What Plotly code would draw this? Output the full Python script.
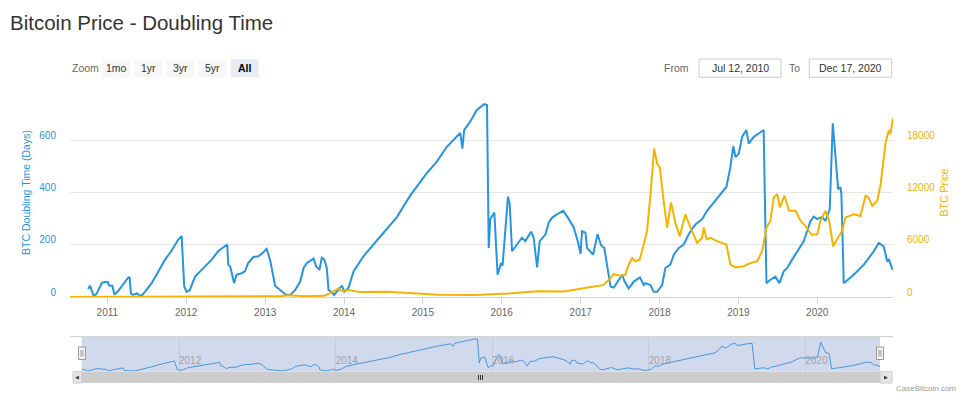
import plotly.graph_objects as go

# ---- data ----
blue_dates = [
    "2010-10-04", "2010-10-13", "2010-10-29", "2010-11-12", "2010-12-06", "2010-12-18",
    "2011-01-03", "2011-01-09", "2011-01-24", "2011-02-03", "2011-02-21", "2011-03-16",
    "2011-04-08", "2011-04-14", "2011-04-20", "2011-05-01", "2011-05-17", "2011-05-27",
    "2011-06-09", "2011-06-24", "2011-07-25", "2011-08-25", "2011-09-25", "2011-10-26",
    "2011-11-25", "2011-12-11", "2011-12-23", "2012-01-03", "2012-01-18", "2012-02-11",
    "2012-03-05", "2012-03-28", "2012-04-28", "2012-05-28", "2012-06-13", "2012-07-09",
    "2012-07-14", "2012-07-23", "2012-08-10", "2012-08-21", "2012-09-14", "2012-09-29",
    "2012-10-14", "2012-11-07", "2012-11-30", "2012-12-16", "2013-01-08", "2013-01-24",
    "2013-02-16", "2013-03-11", "2013-04-04", "2013-04-27", "2013-05-20", "2013-06-12",
    "2013-06-28", "2013-07-13", "2013-08-05", "2013-08-13", "2013-08-25", "2013-09-09",
    "2013-09-20", "2013-10-02", "2013-10-13", "2013-10-21", "2013-11-02", "2013-11-16",
    "2013-12-06", "2013-12-22", "2014-01-02", "2014-01-22", "2014-02-14", "2014-03-17",
    "2014-04-01", "2014-05-17", "2014-09-02", "2014-11-03", "2015-01-19", "2015-03-06",
    "2015-04-22", "2015-06-23", "2015-07-03", "2015-07-11", "2015-08-08", "2015-09-08",
    "2015-10-12", "2015-10-25", "2015-11-02", "2015-11-09", "2015-11-28", "2015-12-13",
    "2015-12-29", "2016-01-05", "2016-01-30", "2016-02-07", "2016-02-18", "2016-03-12",
    "2016-04-04", "2016-04-19", "2016-05-16", "2016-05-28", "2016-06-13", "2016-06-25",
    "2016-07-22", "2016-08-06", "2016-08-22", "2016-09-14", "2016-10-12", "2016-11-07",
    "2016-11-30", "2016-12-18", "2016-12-31", "2017-01-07", "2017-01-23", "2017-01-30",
    "2017-02-11", "2017-02-27", "2017-03-20", "2017-04-05", "2017-04-20", "2017-05-19",
    "2017-06-03", "2017-06-22", "2017-07-12", "2017-07-23", "2017-08-11", "2017-09-04",
    "2017-10-02", "2017-10-20", "2017-10-28", "2017-11-20", "2017-12-05", "2017-12-21",
    "2018-01-13", "2018-01-28", "2018-02-20", "2018-03-08", "2018-03-31", "2018-04-23",
    "2018-05-16", "2018-06-16", "2018-07-17", "2018-08-09", "2018-09-09", "2018-10-18",
    "2018-11-07", "2018-11-25", "2018-12-08", "2018-12-19", "2019-01-03", "2019-01-18",
    "2019-02-07", "2019-02-18", "2019-03-13", "2019-04-05", "2019-04-28", "2019-05-11",
    "2019-05-29", "2019-06-21", "2019-07-10", "2019-07-30", "2019-08-15", "2019-09-07",
    "2019-09-30", "2019-10-31", "2019-12-01", "2019-12-16", "2020-01-01", "2020-01-24",
    "2020-02-08", "2020-02-28", "2020-03-13", "2020-03-26", "2020-04-07", "2020-04-18",
    "2020-04-22", "2020-05-03", "2020-06-18", "2020-08-04", "2020-09-19", "2020-10-12",
    "2020-11-04", "2020-11-20", "2020-11-28", "2020-12-15",
]
blue_days = [
    31, 44, 4, 12, 53, 57,
    57, 44, 43, 9, 24, 49,
    75, 75, 14, 8, 14, 8,
    5, 20, 53, 98, 143, 178,
    220, 233, 40, 20, 27, 78,
    98, 117, 143, 175, 184, 201,
    124, 117, 53, 85, 91, 98,
    130, 153, 156, 166, 184, 140,
    42, 27, 10, 8, 27, 59,
    111, 130, 143, 147, 117, 104,
    150, 143, 111, 27, 20, 8,
    27, 44, 20, 36, 98, 139,
    156, 201, 305, 388, 474, 517,
    575, 628, 568, 639, 671, 716,
    738, 735, 188, 298, 323, 85,
    130, 120, 384, 356, 175, 201,
    227, 214, 250, 227, 113, 214,
    240, 285, 304, 317, 330, 298,
    265, 214, 165, 252, 246, 188,
    175, 162, 240, 198, 188, 40,
    36, 59, 85, 59, 33, 59,
    75, 46, 53, 46, 20, 20,
    46, 111, 124, 162, 188, 201,
    240, 278, 298, 330, 362, 400,
    422, 497, 577, 536, 549, 613,
    639, 587, 613, 626, 639, 53,
    66, 78, 53, 98, 111, 143,
    175, 214, 291, 308, 298, 306,
    291, 336, 665, 523, 413, 420,
    394, 53, 85, 124, 175, 207,
    194, 136, 143, 104,
]

price_dates = [
    "2010-07-12", "2011-06-10", "2011-12-01", "2012-08-15", "2013-03-15", "2013-04-10",
    "2013-07-05", "2013-10-01", "2013-11-13", "2013-12-06", "2013-12-19", "2014-01-22",
    "2014-03-17", "2014-07-18", "2014-12-18", "2015-03-15", "2015-09-01", "2016-02-01",
    "2016-06-13", "2016-10-14", "2016-12-31", "2017-03-01", "2017-04-17", "2017-05-10",
    "2017-06-03", "2017-07-03", "2017-07-26", "2017-08-11", "2017-08-27", "2017-09-11",
    "2017-10-01", "2017-10-20", "2017-11-04", "2017-11-20", "2017-12-07", "2017-12-21",
    "2018-01-02", "2018-01-20", "2018-02-05", "2018-02-23", "2018-03-15", "2018-04-04",
    "2018-05-01", "2018-05-24", "2018-06-24", "2018-07-17", "2018-07-25", "2018-08-07",
    "2018-08-25", "2018-09-24", "2018-11-07", "2018-11-25", "2018-12-19", "2019-01-26",
    "2019-02-26", "2019-03-29", "2019-04-21", "2019-05-11", "2019-05-29", "2019-06-14",
    "2019-06-30", "2019-07-12", "2019-08-03", "2019-08-23", "2019-09-23", "2019-10-16",
    "2019-11-08", "2019-12-04", "2020-01-01", "2020-01-16", "2020-02-08", "2020-02-24",
    "2020-03-15", "2020-04-06", "2020-04-25", "2020-05-11", "2020-06-18", "2020-07-19",
    "2020-08-12", "2020-08-25", "2020-09-12", "2020-10-05", "2020-10-21", "2020-11-13",
    "2020-11-28", "2020-12-05", "2020-12-17",
]
price_usd = [
    0, 20, 4, 11, 90, 200,
    90, 130, 610, 1000, 700, 810,
    560, 610, 330, 250, 230, 400,
    650, 640, 960, 1190, 1390, 1970,
    2630, 2430, 2550, 3710, 4480, 4100,
    4300, 6030, 7570, 11800, 17040, 15300,
    14900, 11050, 7960, 10860, 8540, 6990,
    9500, 7960, 6220, 6800, 7960, 6610,
    6800, 6410, 6030, 3710, 3400, 3520,
    3900, 4100, 5250, 7960, 8730, 11440,
    11820, 10280, 11630, 9890, 9890, 8730,
    8150, 7190, 7190, 8730, 9890, 8920,
    5830, 6800, 7570, 9120, 9500, 9310,
    11630, 11440, 10470, 11050, 12980, 17810,
    19160, 18700, 20500,
]

days_ticks = [0, 200, 400, 600, 800]
days_tick_text = ["0", "200", "400", "600", ""]
price_ticks = [0, 6000, 12000, 18000]

zoom_buttons = ["1mo", "1yr", "3yr", "5yr", "All"]
from_date = "Jul 12, 2010"
to_date = "Dec 17, 2020"

BLUE = "#2794df"
ORANGE = "#f5b301"
FONT = "Liberation Sans, Arial, sans-serif"


# pixel -> paper helpers (plot area is x 70..893, y 88..383)
def px(x):
    return (x - 70) / 823


def py(y):
    return (383 - y) / 295


fig = go.Figure()
fig.add_trace(go.Scatter(x=blue_dates, y=blue_days, mode="lines",
                         line=dict(color=BLUE, width=2), xaxis="x", yaxis="y"))
fig.add_trace(go.Scatter(x=price_dates, y=price_usd, mode="lines",
                         line=dict(color=ORANGE, width=2), xaxis="x", yaxis="y2"))
# navigator series
fig.add_trace(go.Scatter(x=blue_dates, y=blue_days, mode="lines",
                         line=dict(color="#4a96da", width=1), xaxis="x2", yaxis="y3"))

shapes = []
annotations = []


def label(text, x, y, size=10.5, color="#333333", anchor="center"):
    annotations.append(dict(text=text, x=px(x), y=py(y), xref="paper", yref="paper",
                            xanchor=anchor, yanchor="middle", showarrow=False,
                            font=dict(size=size, color=color)))


# navigator mask + outline
shapes.append(dict(type="rect", xref="paper", yref="paper", x0=px(81.7), x1=px(880),
                   y0=py(371.7), y1=py(336.7), fillcolor="rgba(102,133,194,0.3)",
                   line=dict(width=0), layer="below"))
shapes.append(dict(type="line", xref="paper", yref="paper", x0=px(70), x1=px(893),
                   y0=py(336.7), y1=py(336.7), line=dict(color="#cccccc", width=1)))
# scrollbar
shapes.append(dict(type="rect", xref="paper", yref="paper", x0=px(73), x1=px(892),
                   y0=py(383), y1=py(371.7), fillcolor="#f2f2f2", line=dict(width=0)))
shapes.append(dict(type="rect", xref="paper", yref="paper", x0=px(81.7), x1=px(880),
                   y0=py(383), y1=py(371.7), fillcolor="#cccccc", line=dict(width=0)))
for a, b in [(73, 81.7), (880, 892)]:
    shapes.append(dict(type="rect", xref="paper", yref="paper", x0=px(a), x1=px(b),
                       y0=py(383), y1=py(371.7), fillcolor="#e6e6e6",
                       line=dict(color="#cccccc", width=1)))
for gx in [478.5, 480.5, 482.5]:
    shapes.append(dict(type="line", xref="paper", yref="paper", x0=px(gx), x1=px(gx),
                       y0=py(380), y1=py(375), line=dict(color="#333333", width=1)))
label("◀", 77.3, 377.3, size=5)
label("▶", 886, 377.3, size=5)
# navigator handles
for a, b in [(78.5, 85.5), (876.5, 883.5)]:
    shapes.append(dict(type="rect", xref="paper", yref="paper", x0=px(a), x1=px(b),
                       y0=py(359.5), y1=py(347), fillcolor="#f2f2f2",
                       line=dict(color="#999999", width=1)))
    for hx in [a + 2.5, a + 4.5]:
        shapes.append(dict(type="line", xref="paper", yref="paper", x0=px(hx), x1=px(hx),
                           y0=py(356.5), y1=py(350), line=dict(color="#999999", width=1)))

# range selector buttons
label("Zoom", 70, 68, color="#666666", anchor="left")
bx = 102.5
for lab in zoom_buttons:
    active = lab == "All"
    shapes.append(dict(type="rect", xref="paper", yref="paper", x0=px(bx), x1=px(bx + 28),
                       y0=py(77.3), y1=py(59.3), fillcolor="#e6ebf5" if active else "#f7f7f7",
                       line=dict(width=0)))
    label("<b>%s</b>" % lab if active else lab, bx + 14, 68,
          color="#000000" if active else "#333333")
    bx += 32

# from / to inputs
label("From", 690.7, 67.5, color="#666666", anchor="right")
label("To", 801.7, 67.5, color="#666666", anchor="right")
for (a, b), txt in [((699, 781), from_date), ((809.3, 891.7), to_date)]:
    shapes.append(dict(type="rect", xref="paper", yref="paper", x0=px(a), x1=px(b),
                       y0=py(77.3), y1=py(59), fillcolor="white",
                       line=dict(color="#cccccc", width=1)))
    label(txt, (a + b) / 2, 67.5)

# credits
label("CaseBitcoin.com", 958, 388.5, size=8, color="#999999", anchor="right")

fig.update_layout(
    width=963, height=400,
    margin=dict(l=70, r=70, t=88, b=17),
    paper_bgcolor="white", plot_bgcolor="white",
    font=dict(family=FONT, size=10, color="#666666"),
    showlegend=False, hovermode=False,
    title=dict(text="Bitcoin Price - Doubling Time", x=10 / 963, xref="container",
               xanchor="left", y=1 - 23 / 400, yref="container", yanchor="middle",
               pad=dict(l=0, r=0, t=0, b=0),
               font=dict(size=20.5, color="#333333", family=FONT)),
    xaxis=dict(type="date", domain=[0, 1], anchor="y", showgrid=False, zeroline=False,
               showline=True, linecolor="#ccd6eb", ticks="outside", ticklen=6,
               tickcolor="#ccd6eb", dtick="M12", tick0="2011-01-01", tickformat="%Y",
               tickfont=dict(size=10, color="#666666"), automargin=False),
    yaxis=dict(domain=[py(297), 1], anchor="x", range=[0, 800], tickvals=days_ticks,
               ticktext=days_tick_text, gridcolor="#e6e6e6", zeroline=False, showline=False,
               ticks="outside", ticklen=11, tickcolor="rgba(0,0,0,0)", ticklabelshift=-5,
               tickfont=dict(size=10, color=BLUE), automargin=False,
               title=dict(text="BTC Doubling Time (Days)", standoff=6,
                          font=dict(size=10.5, color=BLUE))),
    yaxis2=dict(overlaying="y", side="right", anchor="x", range=[0, 24000],
                tickvals=price_ticks, ticktext=[str(v) for v in price_ticks],
                showgrid=False, zeroline=False, showline=False,
                ticks="outside", ticklen=11, tickcolor="rgba(0,0,0,0)", ticklabelshift=-5,
                tickfont=dict(size=10, color=ORANGE), automargin=False,
                title=dict(text="BTC Price", standoff=6, font=dict(size=10.5, color=ORANGE))),
    xaxis2=dict(type="date", domain=[px(81.7), px(880)], anchor="y3", showgrid=True,
                gridcolor="#c5cbd9", gridwidth=1, zeroline=False, showline=False,
                dtick="M24", tick0="2012-01-01", tickformat="%Y", ticks="",
                ticklabelposition="inside right", tickfont=dict(size=10, color="#a0a0a8"),
                automargin=False),
    yaxis3=dict(domain=[py(371.7), py(336.7)], anchor="x2", range=[-12, 790],
                showgrid=False, zeroline=False, showticklabels=False, showline=False,
                automargin=False),
    shapes=shapes,
    annotations=annotations,
)

fig.write_html("out.html", config={"displayModeBar": False},
               post_script="document.body.style.margin='0';")
